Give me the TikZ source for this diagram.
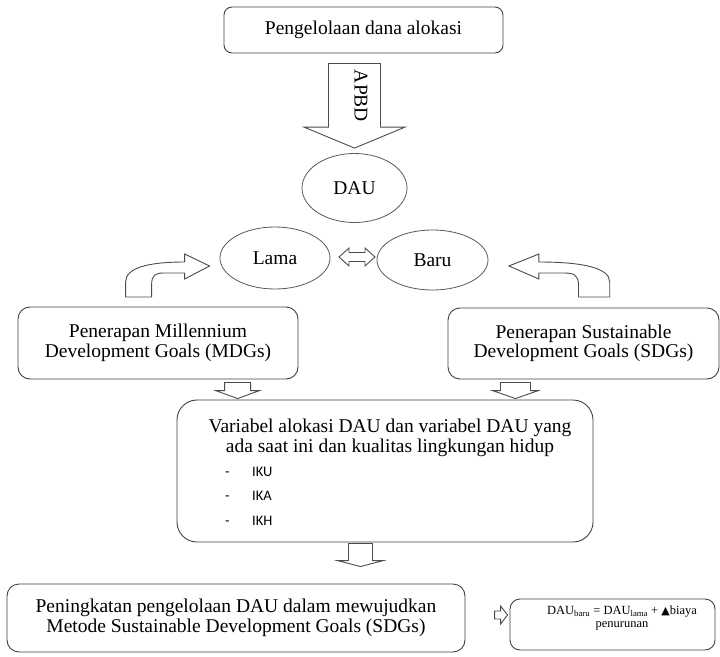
\documentclass[tikz,border=0pt]{standalone}
\usepackage{fontspec}
\setmainfont{Liberation Serif}
\newfontfamily\calibri{Carlito}
\newfontfamily\symfont{DejaVu Sans}
\usetikzlibrary{positioning,calc,shapes.geometric}

\newcommand{\dnblock}[5]{%
  \draw[blockarrow] let \p1=#1, \p2=#2 in
    (\x2-#3,\y1) -- (\x2-#3,\y2+#5) -- (\x2-#4,\y2+#5) -- (\x2,\y2)
    -- (\x2+#4,\y2+#5) -- (\x2+#3,\y2+#5) -- (\x2+#3,\y1) -- cycle;}

\begin{document}
\begin{tikzpicture}[x=1pt,y=1pt,
  every node/.style={font=\fontsize{19.5}{19.5}\selectfont},
  box/.style={draw=black!75,line width=0.9pt,rounded corners=10pt,align=center,inner sep=0pt},
  oval/.style={draw=black!65,line width=0.8pt,ellipse,inner sep=0pt},
  item/.style={font=\calibri\fontsize{14.5}{14.5}\selectfont,inner sep=0pt,anchor=north west},
  blockarrow/.style={draw=black!70,line width=0.9pt,fill=white,line join=miter},
  pics/bentarrow/.style={code={
    \draw[blockarrow] (0,0) -- (-25,12) -- (-25,4) .. controls (-62,4) and (-84,-2) .. (-84,-16)
      -- (-84,-31) -- (-58,-31) -- (-58,-19) .. controls (-58,-9) and (-54,-7) .. (-46,-7)
      -- (-25,-7) -- (-25,-13) -- cycle;}},
  node distance=14.5pt]
\useasboundingbox (0,0) rectangle (720,-656);

\node[box,minimum width=279pt,minimum height=46pt,rounded corners=8pt] (top) at (363.5,-30) {Pengelolaan dana alokasi};
\node[oval,minimum width=105pt,minimum height=69pt] (dau) at (354.5,-188) {DAU};
\node[oval,minimum width=110pt,minimum height=62pt] (lama) at (275,-258) {Lama};
\node[oval,minimum width=111pt,minimum height=60pt] (baru) at (432.5,-260) {Baru};

\node[box,minimum width=280pt,minimum height=72pt,rounded corners=12pt] (mdg) at (158,-343) {Penerapan Millennium\\Development Goals (MDGs)};
\node[box,minimum width=271pt,minimum height=71pt,rounded corners=12pt] (sdg) at (583.5,-343.5) {Penerapan Sustainable\\Development Goals (SDGs)};

\node[box,minimum width=416pt,minimum height=142pt,rounded corners=20pt] (var) at (385,-471) {};
\node[align=center,inner sep=0pt] (vartitle) at (390,-438) {Variabel alokasi DAU dan variabel DAU yang\\ada saat ini dan kualitas lingkungan hidup};
\node[item] (iku) at (225,-467) {\makebox[27pt][l]{-}IKU};
\node[item] (ika) [below=of iku.south west,anchor=north west] {\makebox[27pt][l]{-}IKA};
\node[item] (ikh) [below=of ika.south west,anchor=north west] {\makebox[27pt][l]{-}IKH};

\node[box,minimum width=458pt,minimum height=68pt,rounded corners=12pt] (bot) at (236,-618) {Peningkatan pengelolaan DAU dalam mewujudkan\\Metode Sustainable Development Goals (SDGs)};
\node[box,minimum width=205pt,minimum height=51pt,rounded corners=10pt] (fml) at (612.5,-624.5) {};
\node[align=center,inner sep=0pt,font=\fontsize{12.5}{13.5}\selectfont] (fmltxt) at (622,-618) {DAU\textsubscript{baru} = DAU\textsubscript{lama} + {\symfont\fontsize{11}{11}\selectfont ▲}biaya\\penurunan};

\dnblock{($(top.south)+(0,-10)$)}{($(dau.north)+(0,5)$)}{26pt}{50.5pt}{21pt}
\node[rotate=-90,inner sep=0pt] (apbd) at (361,-96) {APBD};

\draw[blockarrow,shift={($(lama.east)!0.5!(baru.west)+(3.5,2)$)}] (-18,0) -- (-8,9) -- (-8,4.5) -- (8,4.5) -- (8,9) -- (18,0)
  -- (8,-9) -- (8,-4.5) -- (-8,-4.5) -- (-8,-9) -- cycle;
\pic at ($(lama.west)+(-10,-8)$) {bentarrow};
\pic[xscale=-1.2] at ($(baru.east)+(20.5,-6)$) {bentarrow};

\dnblock{($(mdg.south)+(0,-3)$)}{($(var.north west)+(61,1)$)}{13pt}{22pt}{8pt}
\dnblock{($(sdg.south)+(0,-3)$)}{($(var.north east)+(-78,1)$)}{15pt}{23pt}{8pt}
\dnblock{($(var.south)+(0,-1)$)}{($(bot.north east)+(-105,17)$)}{12pt}{23pt}{6pt}

\draw[blockarrow,shift={($(fml.west)+(-2,9.5)$)}] (0,0) -- (-7,9) -- (-7,4) -- (-13,4) -- (-13,-4) -- (-7,-4) -- (-7,-9) -- cycle;
\end{tikzpicture}
\end{document}
